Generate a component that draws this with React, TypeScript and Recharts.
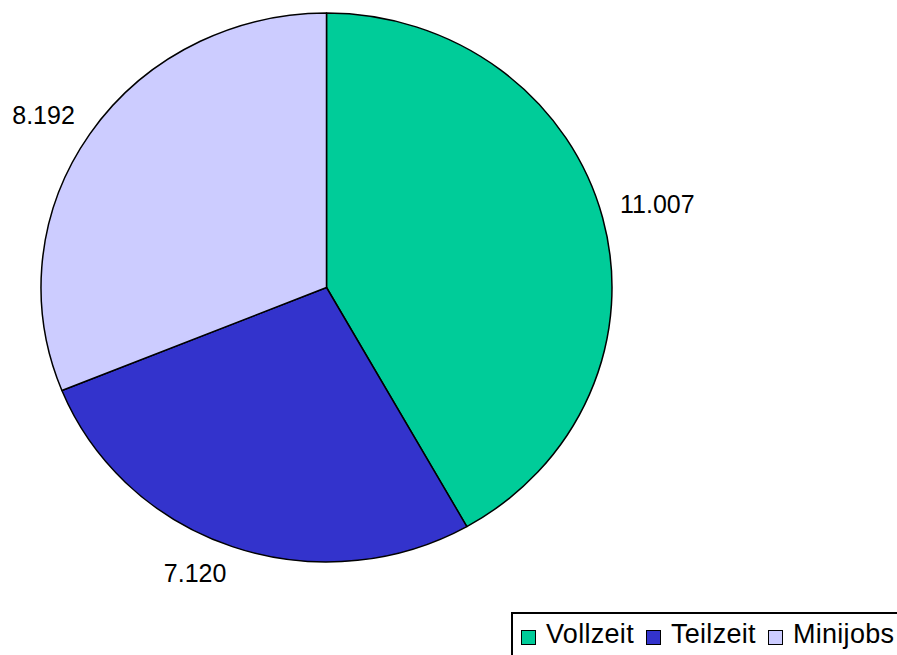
import { PieChart, Pie, Cell, Legend } from "recharts";

const categories = ["Vollzeit", "Teilzeit", "Minijobs"];
const values = [11007, 7120, 8192];
const colors = ["#00CC99", "#3333CC", "#CCCCFF"];

const data = categories.map((name, i) => ({ name, value: values[i] }));

// pie in the original is slightly squashed vertically
const RX = 285.5;
const RY = 274.5;
const RAD = Math.PI / 180;

function formatDe(v: number): string {
  return String(v).replace(/\B(?=(\d{3})+(?!\d))/g, ".");
}

function EllipseSector(props: any) {
  const { cx, cy, startAngle, endAngle, fill } = props;
  const ky = RY / RX;
  const r = props.outerRadius;
  const px = (a: number) => cx + r * Math.cos(a * RAD);
  const py = (a: number) => cy - r * ky * Math.sin(a * RAD);
  const delta = Math.abs(endAngle - startAngle);
  const large = delta > 180 ? 1 : 0;
  const sweep = endAngle < startAngle ? 1 : 0;
  const d = `M ${cx} ${cy} L ${px(startAngle)} ${py(startAngle)} A ${r} ${r * ky} 0 ${large} ${sweep} ${px(endAngle)} ${py(endAngle)} Z`;
  return <path d={d} fill={fill} stroke="#000" strokeWidth={1.5} strokeLinejoin="round" />;
}

function renderLabel(props: any) {
  const { cx, cy, midAngle, value } = props;
  const dx = Math.cos(midAngle * RAD);
  const dy = -Math.sin(midAngle * RAD);
  const gap = 18;
  const ax = cx + (RX + gap) * dx;
  const ay = cy + (RY + gap) * dy;
  const y = dy < 0 ? ay : ay + 18;
  return (
    <text
      x={ax}
      y={y}
      textAnchor={dx > 0 ? "start" : "end"}
      fill="#000"
      fontSize={25}
      fontFamily="'Liberation Sans', Arial, sans-serif"
    >
      {formatDe(value)}
    </text>
  );
}

function LegendBox() {
  return (
    <div
      style={{
        border: "2px solid #000",
        width: 420,
        height: 60,
        boxSizing: "border-box",
        paddingTop: 5,
        paddingLeft: 8,
        display: "flex",
        alignItems: "flex-start",
        fontFamily: "'Liberation Sans', Arial, sans-serif",
        fontSize: 27,
        letterSpacing: 0.3,
        color: "#000",
        background: "#fff",
      }}
    >
      {categories.map((name, i) => (
        <div key={name} style={{ display: "flex", alignItems: "flex-start", marginRight: 12 }}>
          <span
            style={{
              display: "inline-block",
              width: 15,
              height: 15,
              boxSizing: "border-box",
              border: "1.5px solid #000",
              background: colors[i],
              marginTop: 11,
              marginRight: 10,
            }}
          />
          <span style={{ whiteSpace: "nowrap" }}>{name}</span>
        </div>
      ))}
    </div>
  );
}

export default function App() {
  return (
    <div style={{ width: 897, height: 655, overflow: "hidden", position: "relative", background: "#fff" }}>
      <style>{"body{margin:0;}"}</style>
      <PieChart width={897} height={655} margin={{ top: 0, right: 0, bottom: 0, left: 0 }}>
        <Pie
          data={data}
          dataKey="value"
          nameKey="name"
          cx={326.5}
          cy={287.5}
          outerRadius={RX}
          startAngle={90}
          endAngle={-270}
          stroke="#000"
          label={renderLabel}
          labelLine={false}
          shape={EllipseSector}
          isAnimationActive={false}
        >
          {data.map((d, i) => (
            <Cell key={d.name} fill={colors[i]} />
          ))}
        </Pie>
        <Legend
          content={LegendBox}
          wrapperStyle={{ position: "absolute", left: 511, top: 612, width: 420, height: 60 }}
        />
      </PieChart>
    </div>
  );
}
